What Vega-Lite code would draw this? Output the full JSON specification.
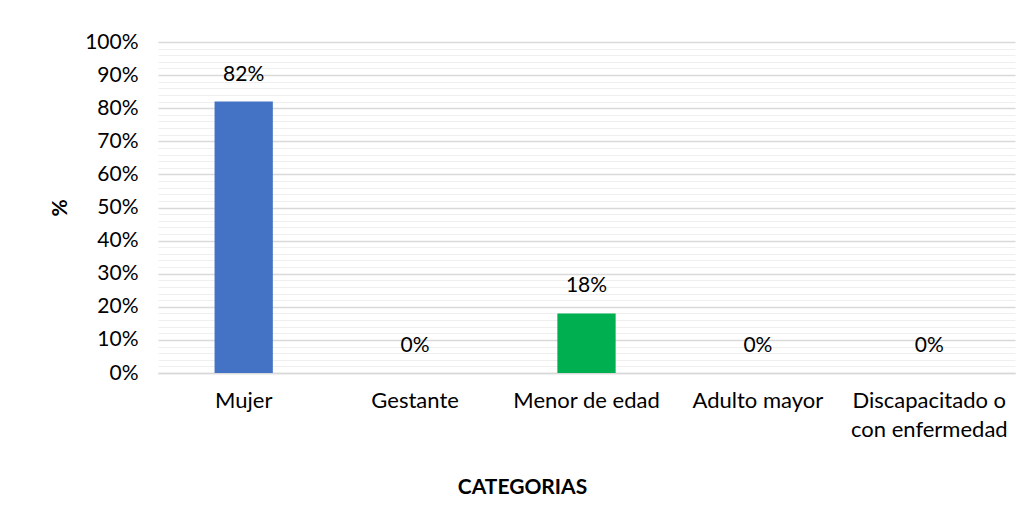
{
  "$schema": "https://vega.github.io/schema/vega-lite/v6.json",
  "width": 857,
  "height": 331,
  "autosize": {"type": "none"},
  "padding": {"left": 158, "top": 42, "right": 16, "bottom": 137},
  "background": "white",
  "config": {
    "view": {"stroke": null},
    "font": "Lato",
    "axis": {"labelFont": "Lato", "titleFont": "Lato", "labelColor": "#000000", "titleColor": "#000000"}
  },
  "data": {
    "values": [
      {"categoria": "Mujer", "valor": 0.82, "color": "#4472C4"},
      {"categoria": "Gestante", "valor": 0.0, "color": "#4472C4"},
      {"categoria": "Menor de edad", "valor": 0.18, "color": "#00B050"},
      {"categoria": "Adulto mayor", "valor": 0.0, "color": "#4472C4"},
      {"categoria": "Discapacitado o con enfermedad", "valor": 0.0, "color": "#4472C4"}
    ]
  },
  "encoding": {
    "x": {
      "field": "categoria",
      "type": "nominal",
      "sort": null,
      "scale": {"paddingInner": 0.66, "paddingOuter": 0.33},
      "axis": {
        "title": "CATEGORIAS",
        "titleFontSize": 21,
        "titleFontWeight": "bold",
        "titleX": 364,
        "titleY": 114,
        "titleAlign": "center",
        "titleBaseline": "middle",
        "labelAngle": 0,
        "labelFontSize": 22,
        "labelPadding": 17,
        "labelBaseline": "top",
        "labelLineHeight": 29,
        "labelExpr": "datum.label == 'Discapacitado o con enfermedad' ? ['Discapacitado o', 'con enfermedad'] : datum.label",
        "ticks": false,
        "domain": true,
        "domainColor": "#d9d9d9",
        "domainWidth": 1.5,
        "grid": false
      }
    }
  },
  "layer": [
    {
      "mark": {"type": "bar"},
      "encoding": {
        "y": {
          "field": "valor",
          "type": "quantitative",
          "scale": {"domain": [0, 1], "nice": false},
          "axis": {
            "title": "%",
            "titleFontSize": 21,
            "titleFontWeight": "bold",
            "titleX": -98,
            "titleBaseline": "middle",
            "values": [0, 0.1, 0.2, 0.3, 0.4, 0.5, 0.6, 0.7, 0.8, 0.9, 1.0],
            "format": ".0%",
            "labelFontSize": 21,
            "labelPadding": 20,
            "ticks": false,
            "domain": false,
            "grid": true,
            "gridColor": "#d9d9d9",
            "gridWidth": 1.5,
            "zindex": 0
          }
        },
        "color": {"field": "color", "type": "nominal", "scale": null}
      }
    },
    {
      "mark": {"type": "text", "fontSize": 21, "dy": -27, "baseline": "middle", "color": "#000000"},
      "encoding": {
        "y": {
          "field": "valor",
          "type": "quantitative",
          "axis": {
            "title": null,
            "labels": false,
            "ticks": false,
            "domain": false,
            "values": [0.02, 0.04, 0.06, 0.08, 0.12, 0.14, 0.16, 0.18, 0.22, 0.24, 0.26, 0.28, 0.32, 0.34, 0.36, 0.38, 0.42, 0.44, 0.46, 0.48, 0.52, 0.54, 0.56, 0.58, 0.62, 0.64, 0.66, 0.68, 0.72, 0.74, 0.76, 0.78, 0.82, 0.84, 0.86, 0.88, 0.92, 0.94, 0.96, 0.98],
            "grid": true,
            "gridColor": "#efefef",
            "gridWidth": 1.2,
            "zindex": 0
          }
        },
        "text": {"field": "valor", "type": "quantitative", "format": ".0%"}
      }
    }
  ],
  "resolve": {"axis": {"y": "independent"}}
}
